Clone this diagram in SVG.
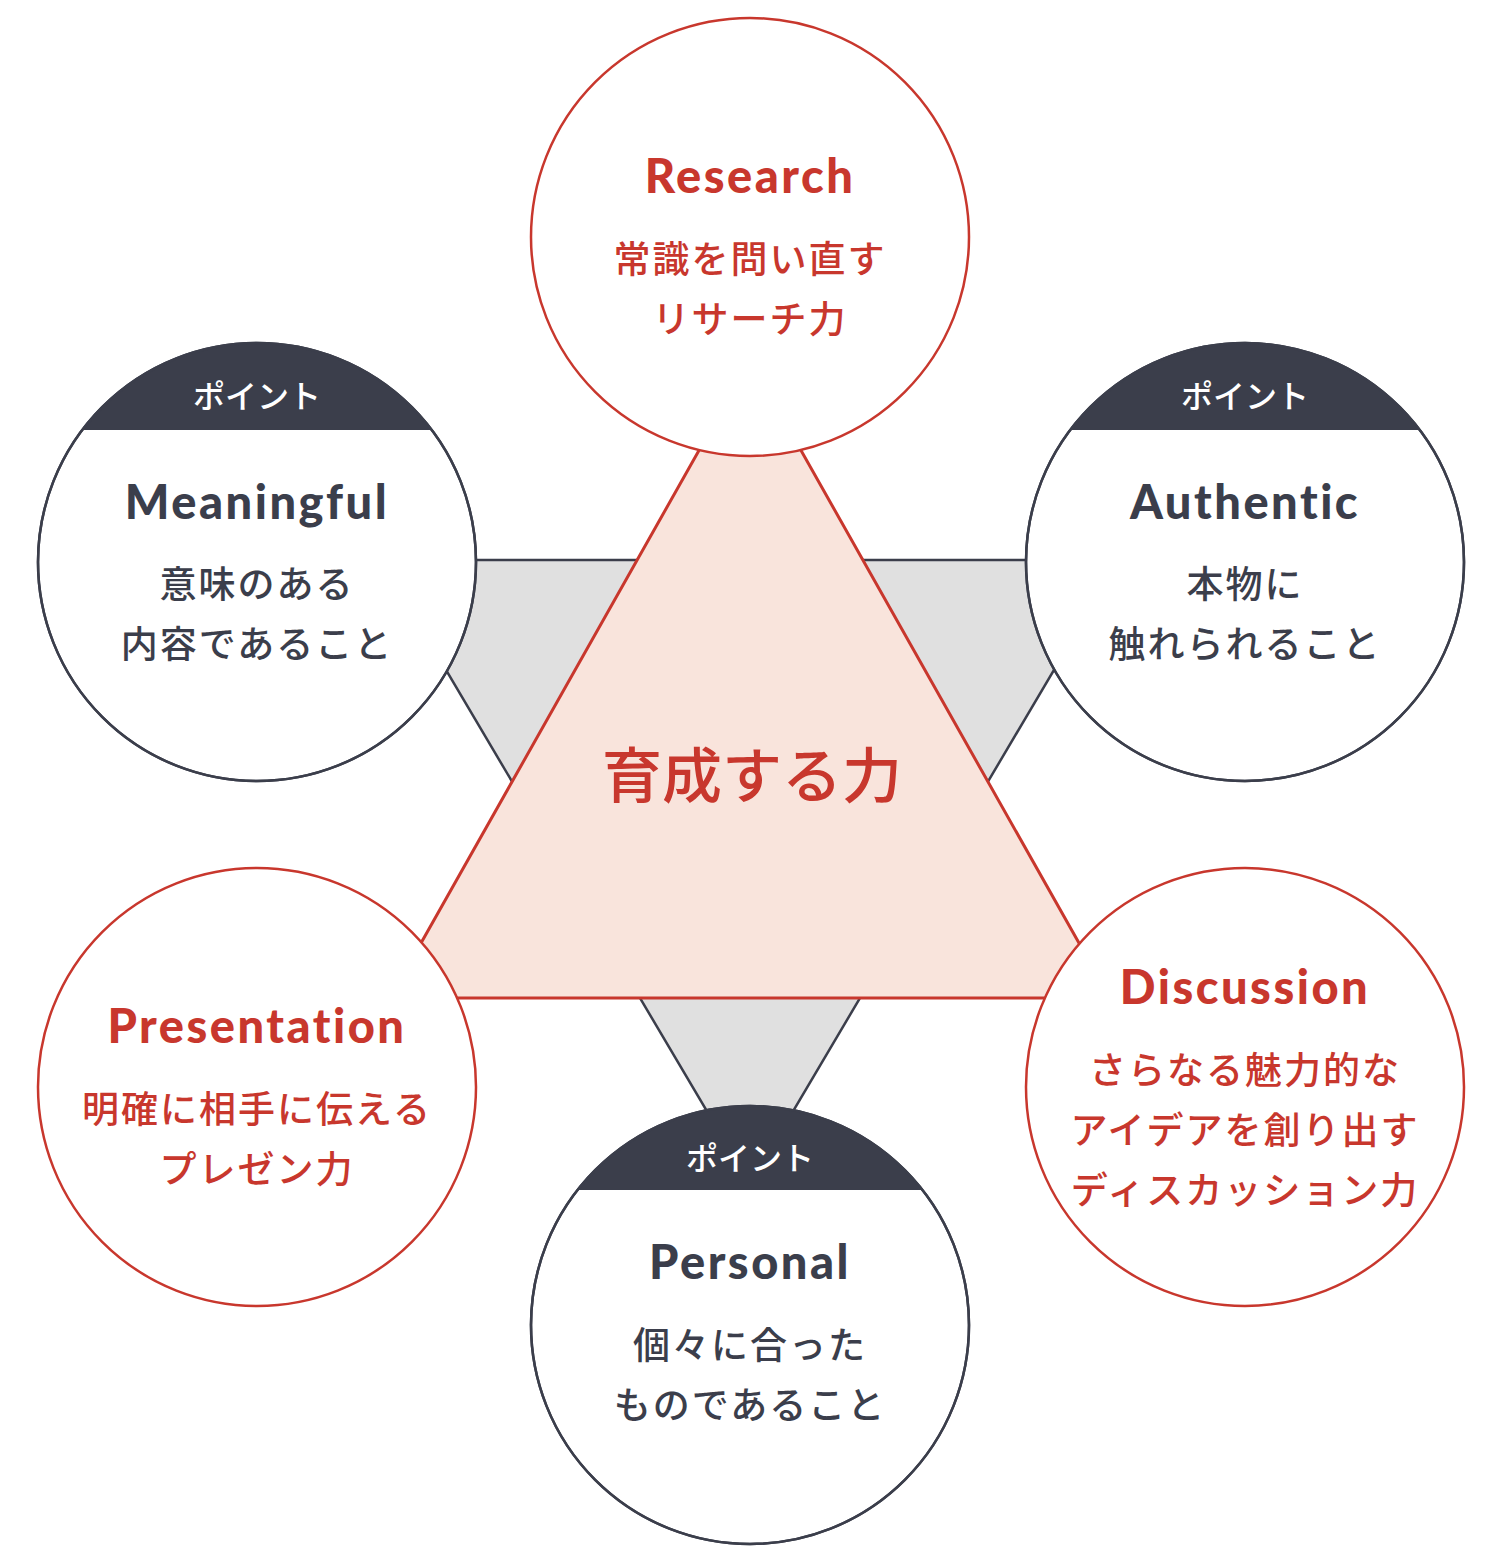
<svg xmlns="http://www.w3.org/2000/svg" width="1500" height="1564" viewBox="0 0 1500 1564">
<style>
.rc{fill:#fff;stroke:#c8372d;stroke-width:2.5}
.dc{fill:#fff;stroke:#3b3e4b;stroke-width:2.5}
.band{fill:#3b3e4b}
.tr{font-family:Lato,"Liberation Sans",sans-serif;font-weight:900;font-size:47px;letter-spacing:2.5px;fill:#c8372d;text-anchor:middle}
.td{font-family:Lato,"Liberation Sans",sans-serif;font-weight:900;font-size:47px;letter-spacing:2.5px;fill:#3b3e4b;text-anchor:middle}
.jr{font-family:"Noto Sans CJK JP",sans-serif;font-size:37px;letter-spacing:2px;font-weight:500;fill:#c8372d;text-anchor:middle}
.jd{font-family:"Noto Sans CJK JP",sans-serif;font-size:37px;letter-spacing:2px;font-weight:500;fill:#3b3e4b;text-anchor:middle}
.pt{font-family:"Noto Sans CJK JP",sans-serif;font-size:32px;font-weight:500;fill:#fff;text-anchor:middle}
</style>
<defs>
<clipPath id="cm"><circle cx="257" cy="562" r="219"/></clipPath>
<clipPath id="ca"><circle cx="1245" cy="562" r="219"/></clipPath>
<clipPath id="cp"><circle cx="750" cy="1325" r="219"/></clipPath>
</defs>
<g id="connectors">
<polygon points="381,560 1119,560 750,1184" fill="#e0e0e0" stroke="#3b3e4b" stroke-width="2.5"/>
<polygon points="750,360 390,998 1110,998" fill="#f9e4dc" stroke="#c8372d" stroke-width="3"/>
</g>
<g id="center"><text x="752" y="798" font-family="'Noto Sans CJK JP',sans-serif" font-size="60" font-weight="500" fill="#c8372d" text-anchor="middle">育成する力</text></g>
<g id="research">
<circle class="rc" cx="750" cy="237" r="219"/>
<text class="tr" x="750" y="193">Research</text>
<text class="jr" x="750" y="273">常識を問い直す</text>
<text class="jr" x="750" y="333">リサーチ力</text>
</g>
<g id="meaningful">
<circle class="dc" cx="257" cy="562" r="219"/>
<rect class="band" x="30" y="340" width="460" height="90" clip-path="url(#cm)"/>
<circle cx="257" cy="562" r="219" fill="none" stroke="#3b3e4b" stroke-width="2.5"/>
<text class="pt" x="257" y="408">ポイント</text>
<text class="td" x="257" y="519">Meaningful</text>
<text class="jd" x="257" y="598">意味のある</text>
<text class="jd" x="257" y="658">内容であること</text>
</g>
<g id="authentic">
<circle class="dc" cx="1245" cy="562" r="219"/>
<rect class="band" x="1020" y="340" width="460" height="90" clip-path="url(#ca)"/>
<circle cx="1245" cy="562" r="219" fill="none" stroke="#3b3e4b" stroke-width="2.5"/>
<text class="pt" x="1245" y="408">ポイント</text>
<text class="td" x="1245" y="519">Authentic</text>
<text class="jd" x="1245" y="598">本物に</text>
<text class="jd" x="1245" y="658">触れられること</text>
</g>
<g id="presentation">
<circle class="rc" cx="257" cy="1087" r="219"/>
<text class="tr" x="257" y="1043">Presentation</text>
<text class="jr" x="257" y="1123">明確に相手に伝える</text>
<text class="jr" x="257" y="1183">プレゼン力</text>
</g>
<g id="discussion">
<circle class="rc" cx="1245" cy="1087" r="219"/>
<text class="tr" x="1245" y="1004">Discussion</text>
<text class="jr" x="1245" y="1084">さらなる魅力的な</text>
<text class="jr" x="1245" y="1144">アイデアを創り出す</text>
<text class="jr" x="1245" y="1204">ディスカッション力</text>
</g>
<g id="personal">
<circle class="dc" cx="750" cy="1325" r="219"/>
<rect class="band" x="520" y="1100" width="460" height="90" clip-path="url(#cp)"/>
<circle cx="750" cy="1325" r="219" fill="none" stroke="#3b3e4b" stroke-width="2.5"/>
<text class="pt" x="750" y="1170">ポイント</text>
<text class="td" x="750" y="1279">Personal</text>
<text class="jd" x="750" y="1359">個々に合った</text>
<text class="jd" x="750" y="1419">ものであること</text>
</g>
</svg>
